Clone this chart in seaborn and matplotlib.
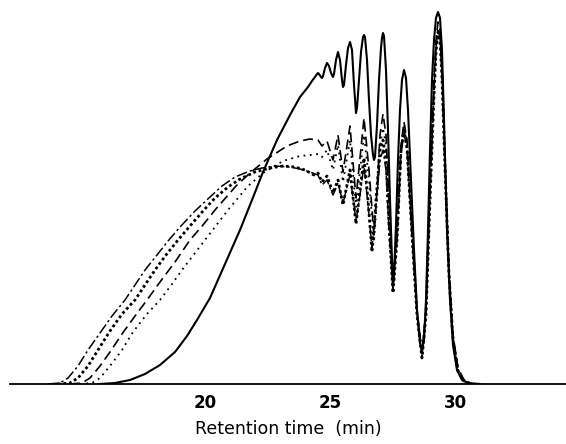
import numpy as np
import pandas as pd
import matplotlib
matplotlib.use("Agg")
import matplotlib.pyplot as plt
import seaborn as sns

# retention time (min) / detector response (arbitrary units)
solid_t = [15.8, 16.4, 17.0, 17.6, 18.2, 18.8, 19.28, 19.68, 20.2, 20.8, 21.4, 21.88, 22.32, 22.88,
           23.4, 23.8, 23.96, 24.12, 24.28, 24.4, 24.48, 24.52, 24.56, 24.64, 24.68, 24.72, 24.8,
           24.88, 24.96, 25.04, 25.12, 25.16, 25.24, 25.32, 25.4, 25.48, 25.52, 25.56, 25.64, 25.72,
           25.8, 25.88, 25.96, 26.04, 26.08, 26.16, 26.24, 26.32, 26.36, 26.4, 26.48, 26.56, 26.64,
           26.72, 26.76, 26.8, 26.88, 26.96, 27.04, 27.08, 27.12, 27.16, 27.24, 27.32, 27.4, 27.48,
           27.52, 27.56, 27.64, 27.72, 27.8, 27.88, 27.96, 28.04, 28.12, 28.24, 28.36, 28.48, 28.6,
           28.68, 28.76, 28.84, 28.92, 29.0, 29.08, 29.16, 29.24, 29.32, 29.4, 29.48, 29.56, 29.68,
           29.8, 29.92, 30.08, 30.28, 30.52, 31.0]
solid_y = [0, 1, 4, 10, 19, 32, 48, 64, 86, 120, 154, 184, 212, 244,
           269, 287, 292, 297, 303, 307, 310, 311, 310, 307, 306, 308, 316,
           321, 318, 311, 307, 310, 324, 332, 324, 304, 297, 299, 319, 336,
           342, 334, 299, 271, 276, 304, 332, 347, 349, 347, 324, 284, 249,
           229, 224, 227, 259, 304, 336, 346, 351, 348, 314, 254, 184, 124,
           104, 110, 159, 224, 274, 304, 314, 306, 274, 204, 134, 74, 41,
           34, 44, 84, 154, 234, 304, 344, 366, 372, 366, 334, 264, 154,
           84, 39, 14, 4, 1, 0]

dashed_t = [14.6, 15.08, 15.4, 15.8, 16.2, 16.68, 17.2, 17.68, 18.2, 18.8, 19.4, 19.92, 20.4, 21.24,
            21.8, 22.48, 23.28, 23.8, 24.2, 24.52, 24.68, 24.88, 25.12, 25.32, 25.52, 25.8, 26.04,
            26.36, 26.56, 26.76, 26.88, 27.0, 27.12, 27.24, 27.36, 27.52, 27.68, 27.84, 27.96, 28.08,
            28.28, 28.48, 28.68, 28.84, 29.0, 29.16, 29.24, 29.32, 29.4, 29.48, 29.6, 29.76, 29.92,
            30.12, 30.36, 30.68]
dashed_y = [0, 1, 6, 18, 32, 50, 68, 84, 102, 122, 144, 159, 174, 198,
            211, 225, 238, 243, 245, 244, 238, 243, 224, 249, 212, 258, 186,
            266, 214, 149, 194, 249, 270, 249, 184, 99, 154, 239, 262, 244,
            154, 74, 31, 74, 194, 304, 344, 362, 354, 314, 224, 114, 49,
            16, 4, 0]

dotted_t = [15.0, 15.48, 15.8, 16.2, 16.68, 17.12, 17.68, 18.2, 18.68, 19.08, 19.6, 20.0, 20.92, 21.72,
            22.32, 23.12, 23.8, 24.2, 24.52, 24.68, 24.88, 25.12, 25.32, 25.52, 25.8, 26.04, 26.36,
            26.56, 26.76, 26.88, 27.0, 27.12, 27.24, 27.36, 27.52, 27.68, 27.84, 27.96, 28.08, 28.28,
            28.48, 28.68, 28.84, 29.0, 29.16, 29.24, 29.32, 29.4, 29.48, 29.6, 29.76, 29.92, 30.12,
            30.36, 30.68]
dotted_y = [0, 1, 6, 18, 34, 52, 70, 84, 100, 114, 131, 144, 174, 198,
            211, 223, 228, 229, 230, 227, 234, 214, 239, 202, 244, 177, 249,
            204, 142, 184, 239, 256, 239, 174, 96, 149, 234, 259, 242, 152,
            72, 28, 72, 189, 296, 336, 356, 348, 309, 219, 112, 46, 14,
            3, 0]

cross_t = [14.12, 14.6, 14.92, 15.32, 15.72, 16.2, 16.68, 17.2, 17.6, 18.0, 18.44, 18.92, 19.4, 19.92,
           20.4, 20.92, 21.4, 22.0, 22.6, 23.12, 23.6, 24.0, 24.36, 24.52, 24.68, 24.88, 25.12, 25.32,
           25.52, 25.8, 26.04, 26.2, 26.36, 26.52, 26.68, 26.84, 27.0, 27.12, 27.24, 27.36, 27.52,
           27.68, 27.84, 27.96, 28.08, 28.28, 28.48, 28.68, 28.84, 29.0, 29.16, 29.24, 29.32, 29.4,
           29.48, 29.6, 29.76, 29.92, 30.12, 30.36, 30.68]
cross_y = [0, 1, 6, 18, 34, 53, 70, 84, 99, 114, 129, 144, 158, 173,
           186, 197, 205, 212, 216, 218, 217, 214, 209, 211, 202, 208, 191, 204,
           179, 214, 160, 194, 226, 184, 132, 184, 234, 244, 224, 159, 91,
           144, 234, 254, 236, 149, 69, 26, 69, 184, 289, 332, 352, 344,
           306, 216, 109, 44, 13, 3, 0]

dashdot_t = [13.72, 14.2, 14.52, 14.92, 15.32, 15.8, 16.28, 16.8, 17.2, 17.6, 18.08, 18.52, 19.0, 19.6,
             20.2, 20.68, 21.2, 21.8, 22.28, 22.8, 23.4, 23.8, 24.2, 24.52, 24.68, 24.88, 25.12, 25.32,
             25.52, 25.8, 26.04, 26.2, 26.36, 26.52, 26.68, 26.84, 27.0, 27.12, 27.24, 27.36, 27.52,
             27.68, 27.84, 27.96, 28.08, 28.28, 28.48, 28.68, 28.84, 29.0, 29.16, 29.24, 29.32, 29.4,
             29.48, 29.6, 29.76, 29.92, 30.12, 30.36, 30.68]
dashdot_y = [0, 1, 6, 18, 34, 51, 68, 84, 99, 114, 129, 143, 157, 173,
             187, 198, 207, 213, 216, 218, 217, 215, 212, 209, 199, 204, 189, 201,
             181, 209, 163, 189, 219, 179, 136, 179, 224, 234, 214, 154, 94,
             144, 229, 252, 234, 147, 70, 28, 72, 189, 294, 336, 354, 346,
             309, 219, 112, 46, 14, 3, 0]

tick_values = [20, 25, 30]

sns.set_style("white")

fig = plt.figure(figsize=(5.66, 4.44), dpi=100)
ax = fig.add_axes([10 / 566, 60 / 444, 556 / 566, 384 / 444])

curves = [
    (dashdot_t, dashdot_y, dict(lw=1.1, ls=(0, (7, 2, 1.5, 2)))),
    (cross_t, cross_y, dict(lw=2.0, ls=(0, (1, 1)))),
    (dashed_t, dashed_y, dict(lw=1.2, ls=(0, (6, 3)))),
    (dotted_t, dotted_y, dict(lw=1.3, ls=(0, (1, 2.5)))),
    (solid_t, solid_y, dict(lw=1.5, ls="-")),
]
for t, y, style in curves:
    df = pd.DataFrame({"time": t, "signal": y})
    sns.lineplot(data=df, x="time", y="signal", ax=ax, color="black",
                 estimator=None, sort=False, **style)

ax.set_xlim(12.2, 34.44)
ax.set_ylim(0, 384)
for side in ["top", "left", "right"]:
    ax.spines[side].set_visible(False)
ax.spines["bottom"].set_linewidth(1.3)
ax.spines["bottom"].set_color("black")

ax.set_xticks(tick_values)
ax.set_xticklabels([str(v) for v in tick_values], fontsize=12, fontweight="bold",
                   family=["Liberation Sans Narrow", "DejaVu Sans"])
ax.tick_params(axis="x", direction="in", length=9, width=1.1, pad=7,
               colors="black", labelcolor="black")
ax.set_yticks([])
ax.set_ylabel("")
ax.set_xlabel("Retention time  (min)", fontsize=12.5, labelpad=6, color="black")

fig.savefig("out.png", dpi=100)
